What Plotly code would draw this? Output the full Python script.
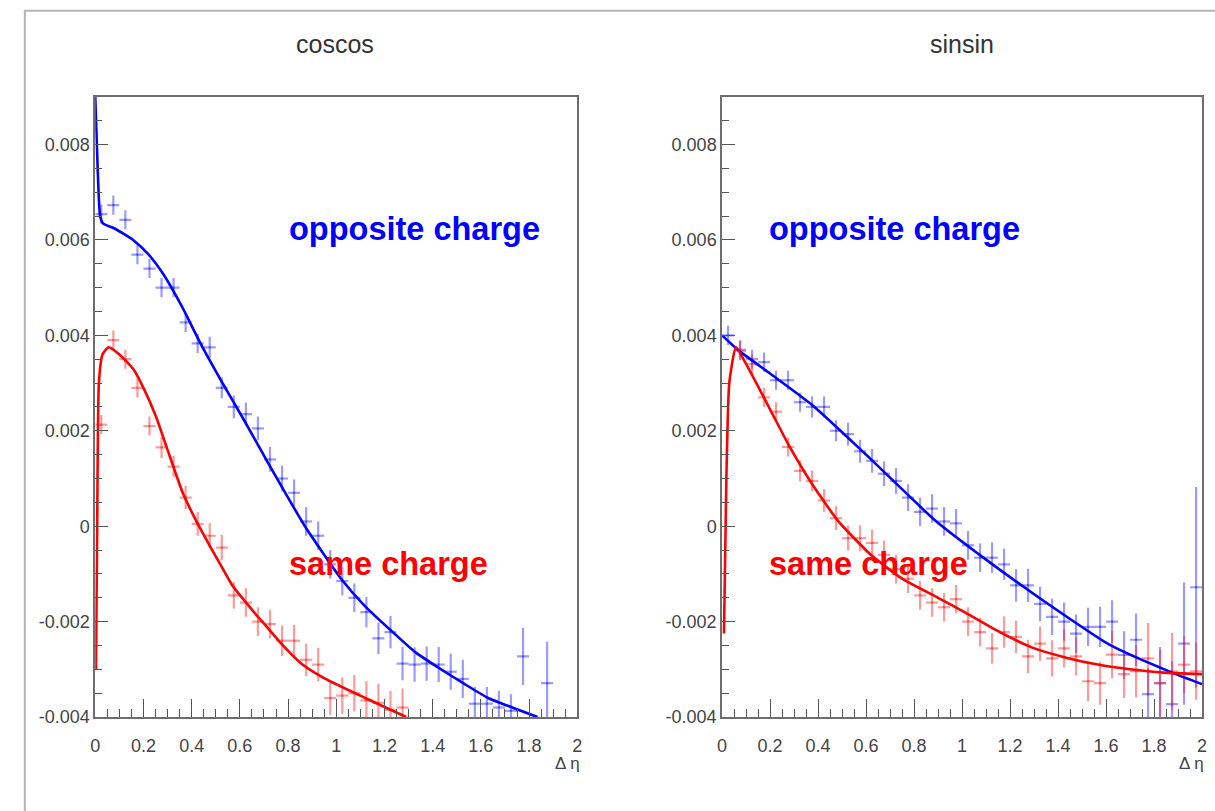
import plotly.graph_objects as go

# ---------------- data ----------------
panel_titles = ["coscos", "sinsin"]
y_tickvals = [-0.004, -0.002, 0, 0.002, 0.004, 0.006, 0.008]
y_ticktext = ["-0.004", "-0.002", "0", "0.002", "0.004", "0.006", "0.008"]
x_tickvals = [0, 0.2, 0.4, 0.6, 0.8, 1.0, 1.2, 1.4, 1.6, 1.8, 2.0]
x_ticktext = ["0", "0.2", "0.4", "0.6", "0.8", "1", "1.2", "1.4", "1.6", "1.8", "2"]
bin_half_width = 0.025

# coscos, opposite charge (blue)
cc_opp_x = [0.025, 0.075, 0.125, 0.175, 0.225, 0.275, 0.325, 0.375, 0.425, 0.475,
            0.525, 0.575, 0.625, 0.675, 0.725, 0.775, 0.825, 0.875, 0.925, 0.975,
            1.025, 1.075, 1.125, 1.175, 1.225, 1.275, 1.325, 1.375, 1.425, 1.475,
            1.525, 1.575, 1.625, 1.675, 1.725, 1.775, 1.875]
cc_opp_y = [0.00654, 0.00673, 0.00642, 0.00569, 0.00540, 0.00500, 0.00500, 0.00427, 0.00383, 0.00375,
            0.00290, 0.00250, 0.00235, 0.00205, 0.00140, 0.00100, 0.00070, 0.00010, -0.00020, -0.00080,
            -0.00115, -0.00150, -0.00180, -0.00235, -0.00222, -0.00288, -0.00290, -0.00288, -0.00290, -0.00305,
            -0.00320, -0.00372, -0.00372, -0.00380, -0.00387, -0.00273, -0.00329]
cc_opp_err = [0.0002, 0.0002, 0.0002, 0.0002, 0.0002, 0.0002, 0.0002, 0.0002, 0.0002, 0.00022,
              0.00022, 0.00024, 0.00024, 0.00025, 0.00026, 0.00027, 0.00028, 0.0003, 0.0003, 0.0003,
              0.0003, 0.0003, 0.00032, 0.00033, 0.00034, 0.00035, 0.00036, 0.00036, 0.00037, 0.00038,
              0.0004, 0.00035, 0.00035, 0.00035, 0.00035, 0.0006, 0.00087]
cc_opp_fit_x = [0.0, 0.01, 0.02, 0.033, 0.08, 0.157, 0.22, 0.28, 0.36, 0.44, 0.528, 0.62,
                0.72, 0.87, 1.02, 1.12, 1.23, 1.33, 1.435, 1.53, 1.63, 1.73, 1.835]
cc_opp_fit_y = [0.0090, 0.0075, 0.0065, 0.00634, 0.00624, 0.0060, 0.0057, 0.0053, 0.0046, 0.0038,
                0.0030, 0.0022, 0.0013, 0.0000, -0.0011, -0.00168, -0.0022, -0.00265, -0.0030,
                -0.0033, -0.0036, -0.0038, -0.0040]

# coscos, same charge (red)
cc_same_x = [0.025, 0.075, 0.125, 0.175, 0.225, 0.275, 0.325, 0.375, 0.425, 0.475,
             0.525, 0.575, 0.625, 0.675, 0.725, 0.775, 0.825, 0.875, 0.925, 0.975,
             1.025, 1.075, 1.125, 1.175, 1.225, 1.275]
cc_same_y = [0.00213, 0.0039, 0.0035, 0.0029, 0.0021, 0.00165, 0.00125, 0.0006, 0.00005, -0.0002,
             -0.00045, -0.00145, -0.0016, -0.0020, -0.00205, -0.0024, -0.0024, -0.0028, -0.0029, -0.0036,
             -0.00355, -0.0035, -0.00365, -0.0037, -0.00385, -0.0038]
cc_same_err = [0.0002, 0.0002, 0.0002, 0.0002, 0.0002, 0.00022, 0.00022, 0.00024, 0.00025, 0.00026,
               0.00027, 0.00028, 0.0003, 0.0003, 0.0003, 0.00032, 0.00033, 0.00034, 0.00035, 0.00036,
               0.00038, 0.00038, 0.0004, 0.0004, 0.0004, 0.0004]
cc_same_fit_x = [0.003, 0.008, 0.015, 0.03, 0.055, 0.1, 0.157, 0.2, 0.252, 0.3, 0.363, 0.42,
                 0.474, 0.53, 0.57, 0.65, 0.71, 0.77, 0.86, 0.955, 1.12, 1.29]
cc_same_fit_y = [-0.0030, 0.0000, 0.0030, 0.0036, 0.00375, 0.0036, 0.0033, 0.0029, 0.0023, 0.0016,
                 0.0007, 0.0001, -0.0004, -0.0009, -0.00125, -0.00175, -0.0021, -0.00245, -0.0029,
                 -0.0032, -0.0036, -0.0040]

# sinsin, opposite charge (blue)
ss_opp_x = [0.025, 0.075, 0.125, 0.175, 0.225, 0.275, 0.325, 0.375, 0.425, 0.475,
            0.525, 0.575, 0.625, 0.675, 0.725, 0.775, 0.825, 0.875, 0.925, 0.975,
            1.025, 1.075, 1.125, 1.175, 1.225, 1.275, 1.325, 1.375, 1.425, 1.475,
            1.525, 1.575, 1.625, 1.675, 1.725, 1.775, 1.825, 1.875, 1.925, 1.975]
ss_opp_y = [0.0040, 0.00368, 0.0035, 0.00344, 0.00306, 0.00306, 0.0026, 0.0025, 0.0025, 0.0020,
            0.00193, 0.00157, 0.00137, 0.0011, 0.00095, 0.0006, 0.0003, 0.00037, 0.0001, 0.00006,
            -0.0004, -0.00066, -0.00066, -0.0008, -0.00124, -0.00124, -0.00163, -0.0019, -0.0020, -0.00225,
            -0.00211, -0.00211, -0.0020, -0.0027, -0.00238, -0.00352, -0.00329, -0.00373, -0.00246, -0.00128]
ss_opp_err = [0.0002, 0.0002, 0.0002, 0.0002, 0.0002, 0.0002, 0.0002, 0.00022, 0.00022, 0.00022,
              0.00024, 0.00024, 0.00025, 0.00026, 0.00027, 0.00028, 0.0003, 0.0003, 0.0003, 0.0003,
              0.0003, 0.0003, 0.00032, 0.00033, 0.00034, 0.00035, 0.00036, 0.00038, 0.0004, 0.0004,
              0.0004, 0.00042, 0.00045, 0.0005, 0.00055, 0.00055, 0.00076, 0.0009, 0.00128, 0.0021]
ss_opp_fit_x = [0.0, 0.07, 0.2, 0.373, 0.6, 0.888, 1.1, 1.33, 1.62, 1.88, 2.0]
ss_opp_fit_y = [0.0040, 0.00368, 0.0032, 0.00255, 0.0015, 0.00012, -0.0007, -0.00153, -0.0025, -0.00308, -0.00331]

# sinsin, same charge (red)
ss_same_x = [0.075, 0.125, 0.175, 0.225, 0.275, 0.325, 0.375, 0.425, 0.475,
             0.525, 0.575, 0.625, 0.675, 0.725, 0.775, 0.825, 0.875, 0.925, 0.975,
             1.025, 1.075, 1.125, 1.175, 1.225, 1.275, 1.325, 1.375, 1.425, 1.475,
             1.525, 1.575, 1.625, 1.675, 1.725, 1.775, 1.825, 1.875, 1.925, 1.975]
ss_same_y = [0.0037, 0.0034, 0.0027, 0.0024, 0.00166, 0.00116, 0.00095, 0.00054, 0.00017,
             -0.00025, -0.00025, -0.00035, -0.0006, -0.0009, -0.0011, -0.00145, -0.0016, -0.0017, -0.00153,
             -0.0020, -0.00222, -0.00256, -0.00222, -0.00232, -0.00273, -0.00246, -0.00277, -0.00256, -0.00273,
             -0.00325, -0.00329, -0.00269, -0.0031, -0.00304, -0.00277, -0.00329, -0.00304, -0.0029, -0.00304]
ss_same_err = [0.0002, 0.0002, 0.0002, 0.0002, 0.0002, 0.00022, 0.00022, 0.00024, 0.00025,
               0.00026, 0.00027, 0.00028, 0.0003, 0.0003, 0.0003, 0.0003, 0.0003, 0.0003, 0.0003,
               0.0003, 0.0003, 0.00032, 0.00033, 0.00034, 0.00035, 0.00036, 0.00038, 0.0004, 0.0004,
               0.00042, 0.00045, 0.0005, 0.0005, 0.00055, 0.00074, 0.0007, 0.0008, 0.0006, 0.0006]
ss_same_fit_x = [0.008, 0.018, 0.03, 0.058, 0.1, 0.174, 0.278, 0.373, 0.485, 0.62, 0.75, 0.9,
                 1.01, 1.15, 1.29, 1.43, 1.565, 1.7, 1.84, 2.0]
ss_same_fit_y = [-0.00225, 0.0010, 0.0030, 0.00375, 0.0034, 0.0027, 0.0017, 0.0009, 0.0001, -0.0006,
                 -0.0011, -0.0015, -0.0018, -0.0022, -0.00254, -0.00275, -0.0029, -0.0030, -0.00307, -0.0031]

# ---------------- styling ----------------
BLUE = "#0000ff"
RED = "#ff0000"
BLUE_ERR = "rgba(30,30,255,0.45)"
RED_ERR = "rgba(255,30,30,0.45)"
FONT = "Liberation Sans, Arial, sans-serif"
W, H = 1215, 811

fig = go.Figure()


def add_points(x, y, err, color, xa, ya):
    fig.add_trace(go.Scatter(
        x=x, y=y, mode="markers", xaxis=xa, yaxis=ya, showlegend=False,
        marker=dict(size=2, color=color),
        error_y=dict(type="data", array=err, color=color, thickness=2.2, width=0),
        error_x=dict(type="constant", value=bin_half_width, color=color, thickness=2.2, width=0),
    ))


def add_fit(x, y, color, xa, ya):
    fig.add_trace(go.Scatter(
        x=x, y=y, mode="lines", xaxis=xa, yaxis=ya, showlegend=False,
        line=dict(color=color, width=2.6, shape="spline", smoothing=0.5),
    ))


add_points(cc_opp_x, cc_opp_y, cc_opp_err, BLUE_ERR, "x", "y")
add_points(cc_same_x, cc_same_y, cc_same_err, RED_ERR, "x", "y")
add_fit(cc_opp_fit_x, cc_opp_fit_y, BLUE, "x", "y")
add_fit(cc_same_fit_x, cc_same_fit_y, RED, "x", "y")

add_points(ss_opp_x, ss_opp_y, ss_opp_err, BLUE_ERR, "x2", "y2")
add_points(ss_same_x, ss_same_y, ss_same_err, RED_ERR, "x2", "y2")
add_fit(ss_opp_fit_x, ss_opp_fit_y, BLUE, "x2", "y2")
add_fit(ss_same_fit_x, ss_same_fit_y, RED, "x2", "y2")

ydom = [1 - 726 / H, 1 - 98 / H]
xdom1 = [91 / W, 577 / W]
xdom2 = [723 / W, 1207 / W]

axis_common = dict(
    showgrid=False, zeroline=False, showline=True, linecolor="#6e6e6e", linewidth=1.6,
    mirror=True, ticks="inside", tickcolor="#555555", tickwidth=1.4,
    tickfont=dict(family=FONT, size=18, color="#444444"),
)
xaxis_cfg = dict(axis_common, range=[0, 2], tickmode="array", tickvals=x_tickvals,
                 ticktext=x_ticktext, ticklen=18, ticklabelstandoff=12,
                 minor=dict(dtick=0.05, tick0=0, ticks="inside", ticklen=8,
                            tickcolor="#555555", tickwidth=1.4))
yaxis_cfg = dict(axis_common, range=[-0.004, 0.009], tickmode="array", tickvals=y_tickvals,
                 ticktext=y_ticktext, ticklen=13,
                 minor=dict(dtick=0.0005, tick0=0, ticks="inside", ticklen=7,
                            tickcolor="#555555", tickwidth=1.4))

fig.update_layout(
    width=W, height=H, margin=dict(l=0, r=0, t=0, b=0),
    paper_bgcolor="white", plot_bgcolor="white",
    xaxis=dict(xaxis_cfg, domain=xdom1, anchor="y"),
    yaxis=dict(yaxis_cfg, domain=ydom, anchor="x"),
    xaxis2=dict(xaxis_cfg, domain=xdom2, anchor="y2"),
    yaxis2=dict(yaxis_cfg, domain=ydom, anchor="x2"),
)

# outer canvas border
fig.add_shape(type="rect", xref="paper", yref="paper",
              x0=20 / W, x1=1.02, y0=-0.02, y1=1 - 11 / H,
              line=dict(color="#b5b5b5", width=2), fillcolor="rgba(0,0,0,0)", layer="below")

annotations = []
for title, cx in zip(panel_titles, [333, 965]):
    annotations.append(dict(text=title, x=cx / W, y=1 - 45 / H, xref="paper", yref="paper",
                            xanchor="center", yanchor="middle", showarrow=False,
                            font=dict(family=FONT, size=25, color="#333333")))
for left in [284, 768]:
    annotations.append(dict(text="<b>opposite charge</b>", x=left / W, y=1 - 232 / H,
                            xref="paper", yref="paper", xanchor="left", yanchor="middle",
                            showarrow=False, font=dict(family=FONT, size=32.5, color=BLUE)))
    annotations.append(dict(text="<b>same charge</b>", x=left / W, y=1 - 571 / H,
                            xref="paper", yref="paper", xanchor="left", yanchor="middle",
                            showarrow=False, font=dict(family=FONT, size=32.5, color=RED)))
for right in [582, 1211]:
    annotations.append(dict(text="Δ η", x=right / W, y=1 - 773 / H, xref="paper", yref="paper",
                            xanchor="right", yanchor="middle", showarrow=False,
                            font=dict(family=FONT, size=17, color="#444444")))
fig.update_layout(annotations=annotations)

fig.write_html("out.html")
